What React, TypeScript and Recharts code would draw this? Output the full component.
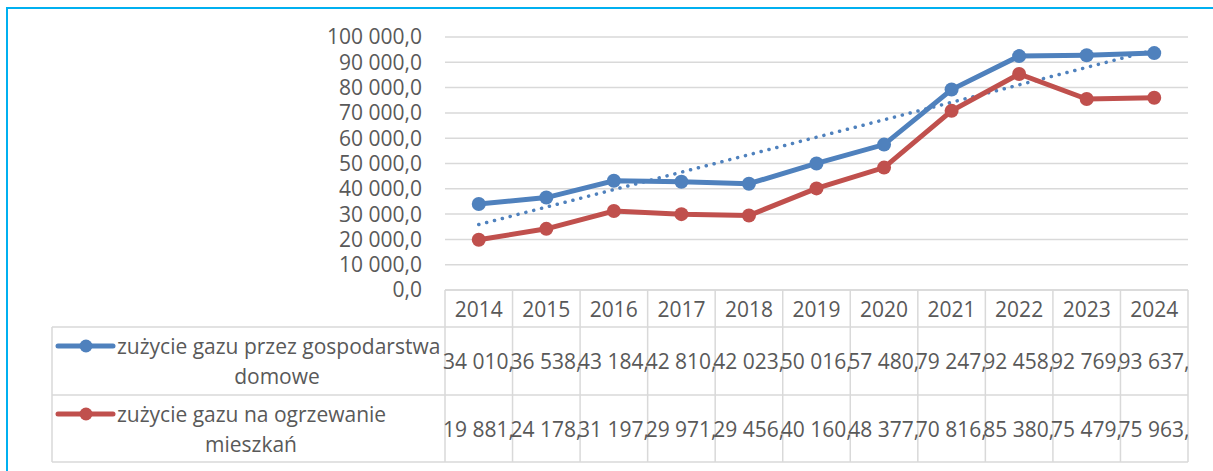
import React from 'react';
import { LineChart, Line, XAxis, YAxis, CartesianGrid } from 'recharts';

const years = ['2014', '2015', '2016', '2017', '2018', '2019', '2020', '2021', '2022', '2023', '2024'];
const households = [34010, 36538, 43184, 42810, 42023, 50016, 57480, 79247, 92458, 92769, 93637];
const heating = [19881, 24178, 31197, 29971, 29456, 40160, 48377, 70816, 85380, 75479, 75963];
const yTicks = [0, 10000, 20000, 30000, 40000, 50000, 60000, 70000, 80000, 90000, 100000];

const seriesNames = ['zużycie gazu przez gospodarstwa domowe', 'zużycie gazu na ogrzewanie mieszkań'];

const BLUE = '#4f81bd';
const RED = '#c0504d';
const GRID = '#d9d9d9';
const TEXT = '#595959';
const FONT = '"Open Sans", sans-serif';
const FS = 21;

const W = 1213;
const H = 471;
const PLOT_LEFT = 445;
const PLOT_RIGHT = 1188;
const PLOT_TOP = 37;
const PLOT_BOTTOM = 290;
const HEADER_BOTTOM = 327;
const ROW1_BOTTOM = 395;
const ROW2_BOTTOM = 462;
const LEGEND_LEFT = 52;

// linear trend line (least squares) for households, like Excel's trendline
const n = households.length;
const meanX = (n - 1) / 2;
const meanY = households.reduce((a, b) => a + b, 0) / n;
let sxy = 0;
let sxx = 0;
households.forEach((v, i) => {
  sxy += (i - meanX) * (v - meanY);
  sxx += (i - meanX) * (i - meanX);
});
const slope = sxy / sxx;
const intercept = meanY - slope * meanX;

const data = years.map((year, i) => ({
  year,
  households: households[i],
  heating: heating[i],
  trend: intercept + slope * i,
}));

const fmt = (v: number) => {
  const [int, dec] = v.toFixed(1).split('.');
  return int.replace(/\B(?=(\d{3})+(?!\d))/g, ' ') + ',' + dec;
};

const cellW = (PLOT_RIGHT - PLOT_LEFT) / years.length;

const DataTable = () => {
  const rows = [
    { values: households, color: BLUE, top: HEADER_BOTTOM, bottom: ROW1_BOTTOM, lines: ['zużycie gazu przez gospodarstwa', 'domowe'], line2X: 277 },
    { values: heating, color: RED, top: ROW1_BOTTOM, bottom: ROW2_BOTTOM, lines: ['zużycie gazu na ogrzewanie', 'mieszkań'], line2X: 251 },
  ];
  return (
    <svg width={W} height={H} style={{ position: 'absolute', left: 0, top: 0, pointerEvents: 'none' }}>
      <defs>
        {rows.map((r, ri) =>
          years.map((_, ci) => (
            <clipPath id={`cell-${ri}-${ci}`} key={`${ri}-${ci}`}>
              <rect x={PLOT_LEFT + ci * cellW - 3} y={r.top} width={cellW + 3} height={r.bottom - r.top} />
            </clipPath>
          ))
        )}
      </defs>
      {/* frame */}
      <rect x={7} y={8} width={W + 20} height={H + 20} fill="none" stroke="#00b0f0" strokeWidth={2} />
      {/* table grid */}
      <g stroke={GRID} strokeWidth={1.5} fill="none">
        <line x1={PLOT_LEFT} x2={PLOT_RIGHT} y1={PLOT_BOTTOM} y2={PLOT_BOTTOM} />
        <line x1={LEGEND_LEFT} x2={PLOT_RIGHT} y1={HEADER_BOTTOM} y2={HEADER_BOTTOM} />
        <line x1={LEGEND_LEFT} x2={PLOT_RIGHT} y1={ROW1_BOTTOM} y2={ROW1_BOTTOM} />
        <line x1={LEGEND_LEFT} x2={PLOT_RIGHT} y1={ROW2_BOTTOM} y2={ROW2_BOTTOM} />
        <line x1={LEGEND_LEFT} x2={LEGEND_LEFT} y1={HEADER_BOTTOM} y2={ROW2_BOTTOM} />
        {years.map((_, i) => (
          <line key={i} x1={PLOT_LEFT + i * cellW} x2={PLOT_LEFT + i * cellW} y1={PLOT_BOTTOM} y2={ROW2_BOTTOM} />
        ))}
        <line x1={PLOT_RIGHT} x2={PLOT_RIGHT} y1={PLOT_BOTTOM} y2={ROW2_BOTTOM} />
      </g>
      <g fontFamily={FONT} fontSize={FS} fill={TEXT}>
        {years.map((y, i) => (
          <text key={y} x={PLOT_LEFT + (i + 0.5) * cellW} y={(PLOT_BOTTOM + HEADER_BOTTOM) / 2} textAnchor="middle" dominantBaseline="central">
            {y}
          </text>
        ))}
        {rows.map((r, ri) => (
          <g key={ri}>
            {r.values.map((v, ci) => (
              <text
                key={ci}
                x={PLOT_LEFT + ci * cellW - 2}
                y={(r.top + r.bottom) / 2}
                dominantBaseline="central"
                clipPath={`url(#cell-${ri}-${ci})`}
              >
                {fmt(v)}
              </text>
            ))}
            <line x1={58} x2={113} y1={r.top + 19} y2={r.top + 19} stroke={r.color} strokeWidth={5} strokeLinecap="round" />
            <circle cx={86} cy={r.top + 19} r={6.5} fill={r.color} />
            <text x={117} y={r.top + 19} dominantBaseline="central">{r.lines[0]}</text>
            <text x={r.line2X} y={r.top + 49} textAnchor="middle" dominantBaseline="central">{r.lines[1]}</text>
          </g>
        ))}
      </g>
    </svg>
  );
};

export default function App() {
  return (
    <div style={{ position: 'fixed', left: 0, top: 0, width: W, height: H, background: '#fff' }}>
      <LineChart
        width={W}
        height={H}
        data={data}
        margin={{ top: PLOT_TOP, right: W - PLOT_RIGHT, bottom: H - PLOT_BOTTOM, left: 0 }}
      >
        <CartesianGrid vertical={false} stroke={GRID} strokeWidth={1.5} />
        <XAxis dataKey="year" hide padding={{ left: cellW / 2, right: cellW / 2 }} />
        <YAxis
          width={PLOT_LEFT}
          domain={[0, 100000]}
          ticks={yTicks}
          interval={0}
          axisLine={false}
          tickLine={false}
          tickSize={0}
          tickMargin={23}
          tickFormatter={fmt}
          tick={{ fill: TEXT, fontSize: FS, fontFamily: FONT }}
        />
        <Line
          dataKey="trend"
          name="trend"
          stroke={BLUE}
          strokeWidth={3.5}
          strokeDasharray="0.1 8"
          strokeLinecap="round"
          dot={false}
          activeDot={false}
          isAnimationActive={false}
        />
        <Line
          dataKey="heating"
          name={seriesNames[1]}
          stroke={RED}
          strokeWidth={5}
          dot={{ r: 7, fill: RED, stroke: RED, strokeWidth: 0 }}
          activeDot={false}
          isAnimationActive={false}
        />
        <Line
          dataKey="households"
          name={seriesNames[0]}
          stroke={BLUE}
          strokeWidth={5}
          dot={{ r: 7, fill: BLUE, stroke: BLUE, strokeWidth: 0 }}
          activeDot={false}
          isAnimationActive={false}
        />
      </LineChart>
      <DataTable />
    </div>
  );
}
